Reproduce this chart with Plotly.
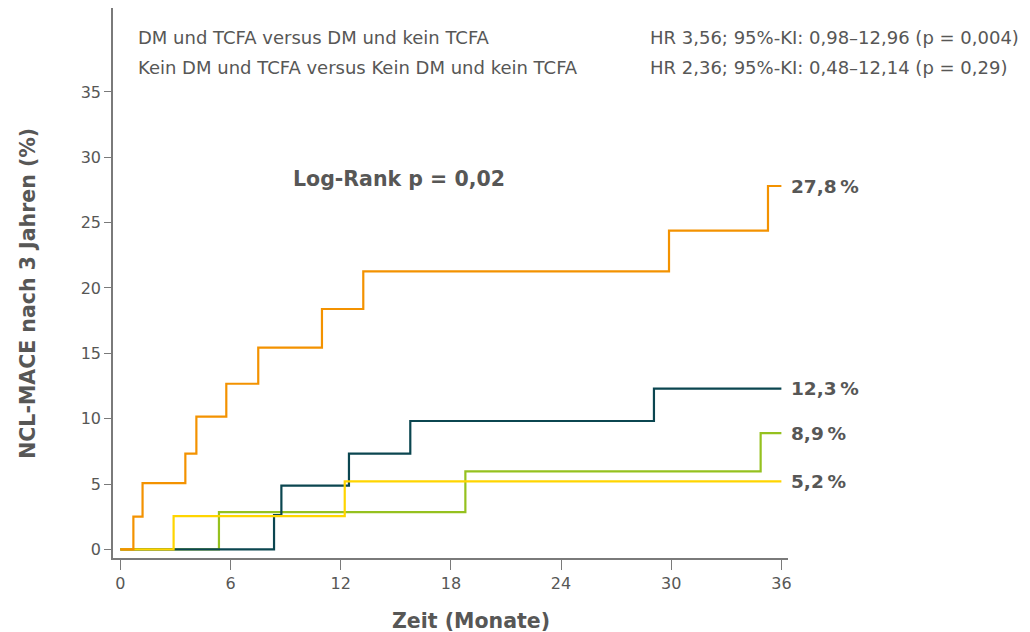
import plotly.graph_objects as go

# Data (months, cumulative NCL-MACE %)
orange_t = [0, 0.71, 1.21, 3.54, 4.14, 5.77, 7.51, 10.98, 13.23, 29.88, 35.27, 36]
orange_v = [0, 2.5, 5.07, 7.32, 10.15, 12.67, 15.43, 18.39, 21.27, 24.38, 27.8, 27.8]

teal_t = [0, 8.37, 8.77, 12.45, 15.79, 29.06, 36]
teal_v = [0, 2.62, 4.87, 7.32, 9.82, 12.3, 12.3]

green_t = [0, 5.37, 18.79, 34.87, 36]
green_v = [0, 2.85, 5.97, 8.9, 8.9]

yellow_t = [0, 2.9, 12.22, 36]
yellow_v = [0, 2.55, 5.2, 5.2]

end_labels = ["27,8\u2009%", "12,3\u2009%", "8,9\u2009%", "5,2\u2009%"]

x_ticks = [0, 6, 12, 18, 24, 30, 36]
y_ticks = [0, 5, 10, 15, 20, 25, 30, 35]

header_left = ["DM und TCFA versus DM und kein TCFA",
               "Kein DM und TCFA versus Kein DM und kein TCFA"]
header_right = ["HR 3,56; 95%-KI: 0,98–12,96 (p = 0,004)",
                "HR 2,36; 95%-KI: 0,48–12,14 (p = 0,29)"]

TEXT = "#575756"
FONT = "DejaVu Sans"

series = [
    (orange_t, orange_v, "#F39200"),
    (teal_t, teal_v, "#0B4650"),
    (green_t, green_v, "#95C11F"),
    (yellow_t, yellow_v, "#FFD500"),
]

fig = go.Figure()
for i in [2, 1, 3, 0]:
    t, v, c = series[i]
    fig.add_trace(go.Scatter(x=t, y=v, mode="lines", line=dict(color=c, width=2.2, shape="hv"),
                             showlegend=False, hoverinfo="skip"))

annotations = []
for (t, v, c), lab in zip(series, end_labels):
    annotations.append(dict(x=t[-1], y=v[-1], xref="x", yref="y", text=lab, showarrow=False,
                            xanchor="left", yanchor="middle", xshift=8,
                            font=dict(family=FONT, size=18.5, color=TEXT, weight="bold")))

annotations.append(dict(x=15.16, y=28.3, xref="x", yref="y", text="Log-Rank p = 0,02",
                        showarrow=False, xanchor="center", yanchor="middle",
                        font=dict(family=FONT, size=20.5, color=TEXT, weight="bold")))

for i, (l, r) in enumerate(zip(header_left, header_right)):
    yp = [0.947, 0.891][i]
    annotations.append(dict(x=0.034, y=yp, xref="paper", yref="paper", text=l, showarrow=False,
                            xanchor="left", yanchor="middle",
                            font=dict(family=FONT, size=18, color=TEXT)))
    annotations.append(dict(x=0.7925, y=yp, xref="paper", yref="paper", text=r, showarrow=False,
                            xanchor="left", yanchor="middle",
                            font=dict(family=FONT, size=18, color=TEXT)))

# axis titles
annotations.append(dict(x=0.530, y=-0.1145, xref="paper", yref="paper", text="Zeit (Monate)",
                        showarrow=False, xanchor="center", yanchor="middle",
                        font=dict(family=FONT, size=20.5, color=TEXT, weight="bold")))
annotations.append(dict(x=-0.126, y=0.482, xref="paper", yref="paper",
                        text="NCL-MACE nach 3 Jahren (%)", textangle=-90,
                        showarrow=False, xanchor="center", yanchor="middle",
                        font=dict(family=FONT, size=20.5, color=TEXT, weight="bold")))

# page body has an 8px default margin: size the figure so the plot area lands in place
fig.update_layout(
    width=1022, height=624,
    margin=dict(l=105, r=242, t=0, b=74),
    plot_bgcolor="white", paper_bgcolor="white",
    annotations=annotations,
    font=dict(family=FONT, color=TEXT),
    xaxis=dict(range=[-0.40, 36.36], tickvals=x_ticks, ticktext=[str(v) for v in x_ticks],
               showgrid=False, zeroline=False, showline=True, linecolor="#7a7a7a", linewidth=1.5,
               ticks="outside", ticklen=10, tickcolor="#7a7a7a", tickwidth=1, automargin=False,
               tickfont=dict(family=FONT, size=16, color=TEXT)),
    yaxis=dict(range=[-0.66, 41.42], tickvals=y_ticks, ticktext=[str(v) for v in y_ticks],
               showgrid=False, zeroline=False, showline=True, linecolor="#7a7a7a", linewidth=1.5,
               ticks="outside", ticklen=7, tickcolor="#7a7a7a", tickwidth=1, automargin=False,
               tickfont=dict(family=FONT, size=16, color=TEXT)),
)

fig.write_html("out.html")
